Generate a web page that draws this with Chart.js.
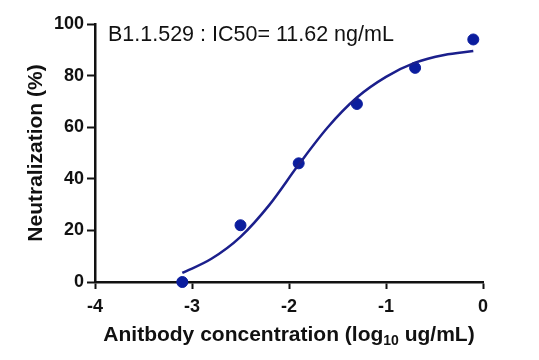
<!DOCTYPE html>
<html>
<head>
<meta charset="utf-8">
<script src="https://cdn.jsdelivr.net/npm/chart.js@4"></script>
<style>
  html, body { margin: 0; padding: 0; background: #fff; }
  #wrap { width: 539px; height: 360px; }
</style>
</head>
<body>
<div id="wrap"><canvas id="chart-neut"></canvas></div>
<script>
(function () {
  'use strict';

  // measured points (log10 ug/mL, % neutralization)
  var doseX = [-3.1, -2.5, -1.9, -1.3, -0.7, -0.1];
  var neutY = [0, 22, 46, 69, 83, 94];

  // fitted curve
  var fitX = [-3.1, -2.8, -2.5, -2.2, -1.9, -1.6, -1.3, -1.0, -0.7, -0.4, -0.1];
  var fitY = [3.5, 9, 17.5, 30, 45.5, 60, 71.5, 79.5, 85, 88, 89.5];

  var xTicks = [-4, -3, -2, -1, 0];
  var yTicks = [0, 20, 40, 60, 80, 100];

  var label = 'B1.1.529 : IC50= 11.62 ng/mL';
  var xTitle = ['Anitbody concentration (log', '10', ' ug/mL)'];
  var yTitle = 'Neutralization (%)';

  var FONT = "'Liberation Sans', Arial, sans-serif";
  Chart.defaults.font.family = FONT;
  Chart.defaults.color = '#111';

  function pts(xs, ys) {
    return xs.map(function (x, i) { return { x: x, y: ys[i] }; });
  }

  var textPlugin = {
    id: 'texts',
    afterDraw: function (chart) {
      var ctx = chart.ctx;
      var area = chart.chartArea;
      ctx.save();
      ctx.fillStyle = '#111';
      ctx.textBaseline = 'alphabetic';

      // annotation
      ctx.font = '21.5px ' + FONT;
      ctx.textAlign = 'left';
      ctx.fillText(label, 108, 41);

      // x title with subscript
      var big = 'bold 21px ' + FONT, small = 'bold 14px ' + FONT;
      ctx.font = big;
      var w0 = ctx.measureText(xTitle[0]).width;
      var w2 = ctx.measureText(xTitle[2]).width;
      ctx.font = small;
      var w1 = ctx.measureText(xTitle[1]).width;
      var cx = (area.left + area.right) / 2;
      var x = cx - (w0 + w1 + w2) / 2;
      var base = 340.5;
      ctx.font = big;
      ctx.fillText(xTitle[0], x, base);
      ctx.font = small;
      ctx.fillText(xTitle[1], x + w0, base + 4.5);
      ctx.font = big;
      ctx.fillText(xTitle[2], x + w0 + w1, base);

      // y title
      ctx.translate(41.5, (area.top + area.bottom) / 2);
      ctx.rotate(-Math.PI / 2);
      ctx.textAlign = 'center';
      ctx.font = big;
      ctx.fillText(yTitle, 0, 0);
      ctx.restore();
    }
  };

  new Chart(document.getElementById('chart-neut'), {
    type: 'scatter',
    data: {
      datasets: [{
        label: 'fit',
        type: 'line',
        data: pts(fitX, fitY),
        borderColor: '#1b1f8c',
        borderWidth: 2.5,
        pointRadius: 0,
        cubicInterpolationMode: 'monotone',
        fill: false
      }, {
        label: 'data',
        data: pts(doseX, neutY),
        backgroundColor: '#0b1d9e',
        borderColor: '#0b1d9e',
        pointRadius: 5.5,
        pointHoverRadius: 5.5,
        clip: false
      }]
    },
    options: {
      responsive: true,
      maintainAspectRatio: false,
      animation: false,
      layout: { padding: { left: 0, right: 56, top: 24, bottom: 0 } },
      plugins: { legend: { display: false }, tooltip: { enabled: false } },
      scales: {
        x: {
          type: 'linear',
          min: -4, max: 0,
          afterBuildTicks: function (s) { s.ticks = xTicks.map(function (v) { return { value: v }; }); },
          afterFit: function (s) { s.height = 78; },
          ticks: { font: { size: 18, weight: 'bold' }, color: '#111', padding: 7 },
          grid: { drawOnChartArea: false, tickLength: 7, tickColor: '#111', tickWidth: 2 },
          border: { color: '#111', width: 2.5 }
        },
        y: {
          type: 'linear',
          min: 0, max: 100,
          afterBuildTicks: function (s) { s.ticks = yTicks.map(function (v) { return { value: v }; }); },
          afterFit: function (s) { s.width = 95; },
          ticks: { font: { size: 18, weight: 'bold' }, color: '#111', padding: 3 },
          grid: { drawOnChartArea: false, tickLength: 8, tickColor: '#111', tickWidth: 2 },
          border: { color: '#111', width: 2.5 }
        }
      }
    },
    plugins: [textPlugin]
  });
})();
</script>
</body>
</html>
